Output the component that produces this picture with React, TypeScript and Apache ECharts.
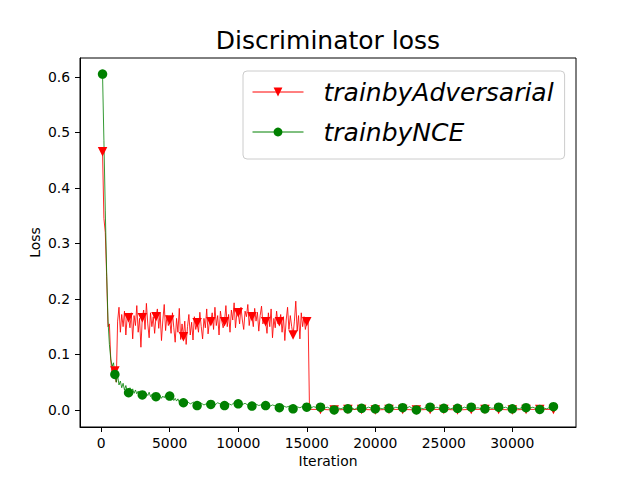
import React, { useEffect, useRef } from "react";
import * as echarts from "echarts";

const TITLE = "Discriminator loss";
const SERIES_NAMES = ["trainbyAdversarial", "trainbyNCE"];
const X_NAME = "Iteration";
const Y_NAME = "Loss";
const X_TICKS = [0, 5000, 10000, 15000, 20000, 25000, 30000];
const Y_TICKS = [0.0, 0.1, 0.2, 0.3, 0.4, 0.5, 0.6];

// trainbyAdversarial: iterations 100..15100, every 100
const advHeadStart = 100;
const advHeadStep = 100;
const advHead = [
  0.465, 0.345, 0.32, 0.24, 0.15, 0.155, 0.09, 0.06, 0.075, 0.07, 0.05,
  0.16, 0.185, 0.14, 0.172, 0.15, 0.178, 0.135, 0.168,
  0.166, 0.148, 0.175, 0.128, 0.17, 0.152, 0.188, 0.14, 0.165, 0.113,
  0.166, 0.18, 0.145, 0.192, 0.155, 0.13, 0.175, 0.15, 0.168, 0.138,
  0.168, 0.182, 0.147, 0.176, 0.125, 0.162, 0.19, 0.143, 0.17, 0.152,
  0.162, 0.138, 0.175, 0.148, 0.122, 0.165, 0.14, 0.183, 0.127, 0.155,
  0.132, 0.16, 0.118, 0.15, 0.172, 0.135, 0.158, 0.126, 0.168, 0.145,
  0.157, 0.14, 0.176, 0.15, 0.128, 0.165, 0.148, 0.182, 0.137, 0.16,
  0.159, 0.175, 0.145, 0.185, 0.152, 0.17, 0.135, 0.178, 0.16, 0.148,
  0.159, 0.188, 0.15, 0.172, 0.14, 0.18, 0.162, 0.193, 0.148, 0.175,
  0.175, 0.155, 0.185, 0.162, 0.145, 0.178, 0.168, 0.19, 0.152, 0.172,
  0.168, 0.15, 0.183, 0.16, 0.176, 0.142, 0.17, 0.187, 0.155, 0.165,
  0.159, 0.138, 0.175, 0.15, 0.182, 0.13, 0.165, 0.148, 0.178, 0.155,
  0.159, 0.172, 0.14, 0.168, 0.125, 0.162, 0.185, 0.145, 0.17, 0.15,
  0.135, 0.16, 0.196, 0.142, 0.17, 0.128, 0.175, 0.15, 0.168, 0.145,
  0.159, 0.165,
];
const advTailIter = [
  15200, 16000, 17000, 18000, 19000, 20000, 21000, 22000, 23000, 24000,
  25000, 26000, 27000, 28000, 29000, 30000, 31000, 32000, 33000,
];
const advTail = [
  0.001, 0.001, 0.0, 0.001, 0.001, 0.0, 0.001, 0.001, 0.0, 0.001,
  0.001, 0.0, 0.001, 0.001, 0.001, 0.0, 0.001, 0.001, 0.001,
];

// trainbyNCE: iterations 100..6000 every 100, then 6250..33000 every 250
const nceHeadStart = 100;
const nceHeadStep = 100;
const nceHead = [
  0.605, 0.485, 0.36, 0.247, 0.16, 0.118, 0.092, 0.078, 0.085, 0.064,
  0.05, 0.062, 0.045, 0.052, 0.04, 0.048, 0.036, 0.044, 0.034, 0.031,
  0.04, 0.033, 0.038, 0.03, 0.036, 0.029, 0.034, 0.028, 0.033, 0.027,
  0.031, 0.025, 0.03, 0.026, 0.032, 0.024, 0.028, 0.023, 0.027, 0.024,
  0.03, 0.022, 0.026, 0.021, 0.025, 0.022, 0.027, 0.02, 0.024, 0.025,
  0.019, 0.022, 0.017, 0.021, 0.016, 0.02, 0.014, 0.018, 0.015, 0.013,
];
const nceTailStart = 6250;
const nceTailStep = 250;
const nceTail = [
  0.016, 0.011, 0.014, 0.008,
  0.013, 0.009, 0.012, 0.01,
  0.008, 0.013, 0.01, 0.008,
  0.012, 0.009, 0.014, 0.011,
  0.009, 0.012, 0.008, 0.007,
  0.011, 0.008, 0.01, 0.008,
  0.006, 0.009, 0.007, 0.004,
  0.008, 0.005, 0.007, 0.002,
  0.006, 0.004, 0.007, 0.005,
  0.003, 0.006, 0.004, 0.005,
  0.003, 0.005, 0.002, 0.0,
  0.004, 0.002, 0.005, 0.002,
  0.004, 0.001, 0.005, 0.003,
  0.002, 0.005, 0.003, 0.002,
  0.004, 0.002, 0.005, 0.003,
  0.002, 0.005, 0.003, 0.004,
  0.003, 0.006, 0.002, 0.0,
  0.004, 0.002, 0.006, 0.005,
  0.003, 0.005, 0.002, 0.003,
  0.005, 0.002, 0.004, 0.003,
  0.002, 0.005, 0.003, 0.005,
  0.003, 0.004, 0.002, 0.002,
  0.005, 0.003, 0.004, 0.005,
  0.003, 0.005, 0.002, 0.002,
  0.004, 0.002, 0.005, 0.004,
  0.003, 0.005, 0.002, 0.001,
  0.004, 0.002, 0.005, 0.006,
];

const FONT = "DejaVu Sans";

function isMarker(x: number) {
  return x === 100 || x % 1000 === 0;
}

function toItems(iters: number[], vals: number[]) {
  return iters.map((x, i) =>
    isMarker(x)
      ? { value: [x, vals[i]] }
      : { value: [x, vals[i]], symbol: "none" }
  );
}

function seq(start: number, step: number, n: number) {
  return Array.from({ length: n }, (_, i) => start + i * step);
}

export default function App() {
  const ref = useRef<HTMLDivElement>(null);
  useEffect(() => {
    document.body.style.margin = "0";
    if (!ref.current) return;
    const chart = echarts.init(ref.current, null, { renderer: "svg" });

    const advIters = seq(advHeadStart, advHeadStep, advHead.length).concat(advTailIter);
    const advVals = advHead.concat(advTail);
    const nceIters = seq(nceHeadStart, nceHeadStep, nceHead.length).concat(
      seq(nceTailStart, nceTailStep, nceTail.length)
    );
    const nceVals = nceHead.concat(nceTail);

    const axisText = { color: "#000", fontSize: 13.9, fontFamily: FONT };

    chart.setOption({
      animation: false,
      backgroundColor: "#fff",
      title: {
        text: TITLE,
        left: 328,
        top: 28,
        textAlign: "center",
        padding: 0,
        textStyle: { fontSize: 25, fontWeight: "normal", fontFamily: FONT, color: "#000" },
      },
      grid: {
        left: 80,
        right: 64,
        top: 58,
        bottom: 53,
        show: true,
        borderColor: "#000",
        borderWidth: 1,
        containLabel: false,
      },
      legend: {
        orient: "vertical",
        left: 243,
        top: 71,
        padding: [6, 11, 12, 9],
        itemWidth: 51,
        itemHeight: 11,
        itemGap: 10,
        backgroundColor: "rgba(255,255,255,0.8)",
        borderColor: "#cccccc",
        borderWidth: 1,
        borderRadius: 4,
        selectedMode: false,
        lineStyle: { width: 1 },
        textStyle: {
          fontSize: 25,
          fontStyle: "italic",
          fontFamily: FONT,
          color: "#000",
          lineHeight: 30,
          padding: [0, 0, 0, 15],
        },
      },
      xAxis: {
        type: "value",
        min: -1545,
        max: 34645,
        name: X_NAME,
        nameLocation: "middle",
        nameGap: 27,
        nameMoveOverlap: false,
        nameTextStyle: axisText,
        splitLine: { show: false },
        axisLine: { show: true, onZero: false, lineStyle: { color: "#000", width: 1 } },
        axisTick: { show: true, length: 5, customValues: X_TICKS, lineStyle: { color: "#000" } },
        axisLabel: {
          customValues: X_TICKS,
          margin: 9,
          ...axisText,
          formatter: (v: number) => String(v),
        },
      },
      yAxis: {
        type: "value",
        min: -0.0307,
        max: 0.634,
        name: Y_NAME,
        nameLocation: "middle",
        nameGap: 38,
        nameMoveOverlap: false,
        nameTextStyle: axisText,
        splitLine: { show: false },
        axisLine: { show: true, onZero: false, lineStyle: { color: "#000", width: 1 } },
        axisTick: { show: true, length: 5, customValues: Y_TICKS, lineStyle: { color: "#000" } },
        axisLabel: {
          customValues: Y_TICKS,
          margin: 10,
          ...axisText,
          formatter: (v: number) => v.toFixed(1),
        },
      },
      series: [
        {
          type: "line",
          name: SERIES_NAMES[0],
          data: toItems(advIters, advVals),
          symbol: "triangle",
          symbolRotate: 180,
          symbolSize: 9.5,
          showAllSymbol: true,
          color: "#ff0000",
          itemStyle: { color: "#ff0000" },
          lineStyle: { color: "#ff0000", width: 0.85 },
          silent: true,
          emphasis: { disabled: true },
        },
        {
          type: "line",
          name: SERIES_NAMES[1],
          data: toItems(nceIters, nceVals),
          symbol: "circle",
          symbolSize: 9.5,
          showAllSymbol: true,
          color: "#008000",
          itemStyle: { color: "#008000" },
          lineStyle: { color: "#008000", width: 0.8 },
          silent: true,
          emphasis: { disabled: true },
        },
      ],
    });
    return () => chart.dispose();
  }, []);
  return <div ref={ref} style={{ width: 640, height: 480 }} />;
}
